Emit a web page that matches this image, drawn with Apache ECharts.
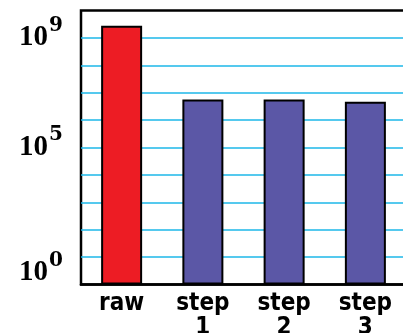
<!DOCTYPE html>
<html>
<head>
<meta charset="utf-8">
<script src="https://cdn.jsdelivr.net/npm/echarts@6/dist/echarts.min.js"></script>
<style>
  html, body { margin: 0; padding: 0; background: #fff; }
  #chart { width: 403px; height: 333px; }
</style>
</head>
<body>
<div id="chart"></div>
<script>
// Stages of the pipeline and the size at each one (log scale)
const categories = ['raw', 'step 1', 'step 2', 'step 3'];
const sizes = [2.8e9, 5.6e6, 5.6e6, 4.7e6];
const barColors = ['#ed1c24', '#5b57a6', '#5b57a6', '#5b57a6'];
// Decades that carry a label on the vertical axis
const labelledExponents = [0, 5, 9];

const chart = echarts.init(document.getElementById('chart'), null, { renderer: 'canvas' });

chart.setOption({
  animation: false,
  backgroundColor: '#fff',
  grid: {
    left: 81, top: 10.5, width: 325, height: 274,
    outerBoundsMode: 'none',
    containLabel: false,
    show: true, borderColor: '#000', borderWidth: 2.5, backgroundColor: '#fff'
  },
  xAxis: {
    type: 'category',
    data: categories,
    axisLine: { show: true, lineStyle: { color: '#000', width: 2.5 } },
    axisTick: { show: false },
    axisLabel: {
      interval: 0,
      margin: 7,
      color: '#000',
      fontFamily: 'DejaVu Sans Condensed',
      fontWeight: 'bold',
      fontSize: 24,
      lineHeight: 24,
      formatter: v => v.replace(' ', '\n')
    }
  },
  yAxis: {
    type: 'log',
    logBase: 10,
    min: 1,
    max: 1e10,
    interval: 1,
    axisLine: { show: false },
    axisTick: { show: false },
    splitLine: {
      show: true, showMinLine: false, showMaxLine: false,
      lineStyle: { color: '#1db7e8', width: 1.5 }
    },
    axisLabel: {
      margin: 18,
      color: '#000',
      formatter: function (value) {
        const e = Math.round(Math.log10(value));
        if (labelledExponents.indexOf(e) < 0) return '';
        const txt = '{b|10}{s|' + e + '}';
        // the lowest label sits a little above its decade line
        return e === 0 ? txt + '\n{gap| }' : txt;
      },
      rich: {
        b: { fontFamily: 'Liberation Serif', fontWeight: 'bold', fontSize: 29, lineHeight: 45, color: '#000' },
        s: { fontFamily: 'DejaVu Serif', fontWeight: 'bold', fontSize: 20, lineHeight: 20, verticalAlign: 'top', padding: [0, 0, 0, 1], color: '#000' },
        gap: { fontSize: 10, lineHeight: 23 }
      }
    }
  },
  series: [{
    type: 'bar',
    barWidth: 41,
    data: sizes.map((v, i) => ({
      value: v,
      itemStyle: { color: barColors[i], borderColor: '#000', borderWidth: 2 }
    }))
  }]
});
</script>
</body>
</html>
